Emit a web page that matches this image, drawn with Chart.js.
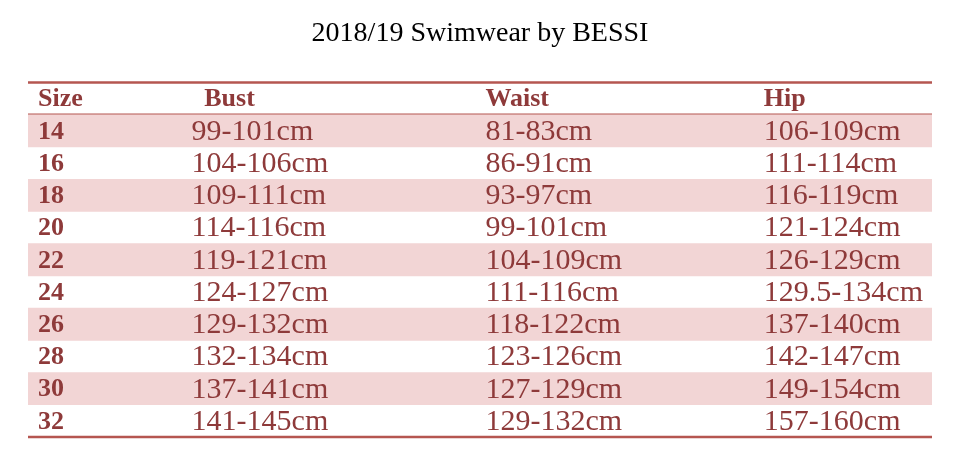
<!DOCTYPE html>
<html>
<head>
<meta charset="utf-8">
<script src="https://cdn.jsdelivr.net/npm/chart.js@4"></script>
<style>
  html, body { margin: 0; padding: 0; background: #fff; }
  #wrap { width: 963px; height: 475px; }
</style>
</head>
<body>
<div id="wrap"><canvas id="sizeChart"></canvas></div>
<script>
// table data
const headers = ['Size', 'Bust', 'Waist', 'Hip'];
const sizes = ['14', '16', '18', '20', '22', '24', '26', '28', '30', '32'];
const bust = ['99-101cm', '104-106cm', '109-111cm', '114-116cm', '119-121cm', '124-127cm', '129-132cm', '132-134cm', '137-141cm', '141-145cm'];
const waist = ['81-83cm', '86-91cm', '93-97cm', '99-101cm', '104-109cm', '111-116cm', '118-122cm', '123-126cm', '127-129cm', '129-132cm'];
const hip = ['106-109cm', '111-114cm', '116-119cm', '121-124cm', '126-129cm', '129.5-134cm', '137-140cm', '142-147cm', '149-154cm', '157-160cm'];

const RED = '#8e3a3a';
const LINE = '#b55650';
const SHADE = '#f2d5d5';
// column x positions, in x-scale units (0..1 across the table)
const headX = [0.011, 0.195, 0.506, 0.814];
const cellX = [0.011, 0.181, 0.506, 0.814];

const rowLabels = ['hdr'].concat(sizes);
// shade every other body row, starting with the first
const shadeData = rowLabels.map((r, i) => (i > 0 && i % 2 === 1) ? [0, 1] : null);

const tablePlugin = {
    id: 'tableText',
    beforeDatasetsDraw(chart) {
        const { ctx, chartArea: a, scales: { y } } = chart;
        const half = (y.getPixelForValue(1) - y.getPixelForValue(0)) / 2;
        ctx.save();
        ctx.strokeStyle = LINE;
        ctx.lineWidth = 2.5;
        [y.getPixelForValue(0) - half, y.getPixelForValue(0) + half, y.getPixelForValue(sizes.length) + half].forEach(py => {
            ctx.beginPath(); ctx.moveTo(a.left, py); ctx.lineTo(a.right, py); ctx.stroke();
        });
        ctx.restore();
    },
    afterDatasetsDraw(chart) {
        const { ctx, scales: { x, y } } = chart;
        ctx.save();
        ctx.fillStyle = RED;
        ctx.textBaseline = 'middle';
        ctx.textAlign = 'left';
        ctx.font = 'bold 26px "Liberation Serif"';
        headers.forEach((h, c) => ctx.fillText(h, x.getPixelForValue(headX[c]), y.getPixelForValue(0) + 1));
        const cols = [sizes, bust, waist, hip];
        sizes.forEach((s, r) => {
            const py = y.getPixelForValue(r + 1) + 1;
            cols.forEach((col, c) => {
                ctx.font = (c === 0 ? 'bold 26px' : '30px') + ' "Liberation Serif"';
                ctx.fillText(col[r], x.getPixelForValue(cellX[c]), py);
            });
        });
        ctx.restore();
    }
};

new Chart(document.getElementById('sizeChart'), {
    type: 'bar',
    data: {
        labels: rowLabels,
        datasets: [{ data: shadeData, backgroundColor: SHADE, borderWidth: 0, barPercentage: 1, categoryPercentage: 1 }]
    },
    options: {
        indexAxis: 'y',
        responsive: true,
        maintainAspectRatio: false,
        animation: false,
        layout: { padding: { left: 28, right: 31, top: 0, bottom: 38 } },
        scales: {
            x: { type: 'linear', min: 0, max: 1, display: false },
            y: { type: 'category', display: false }
        },
        plugins: {
            legend: { display: false },
            tooltip: { enabled: false },
            title: {
                display: true,
                text: '2018/19 Swimwear by BESSI',
                color: '#000',
                font: { family: 'Liberation Serif', size: 28, weight: 'normal' },
                padding: { top: 17, bottom: 32 }
            }
        }
    },
    plugins: [tablePlugin]
});
</script>
</body>
</html>
